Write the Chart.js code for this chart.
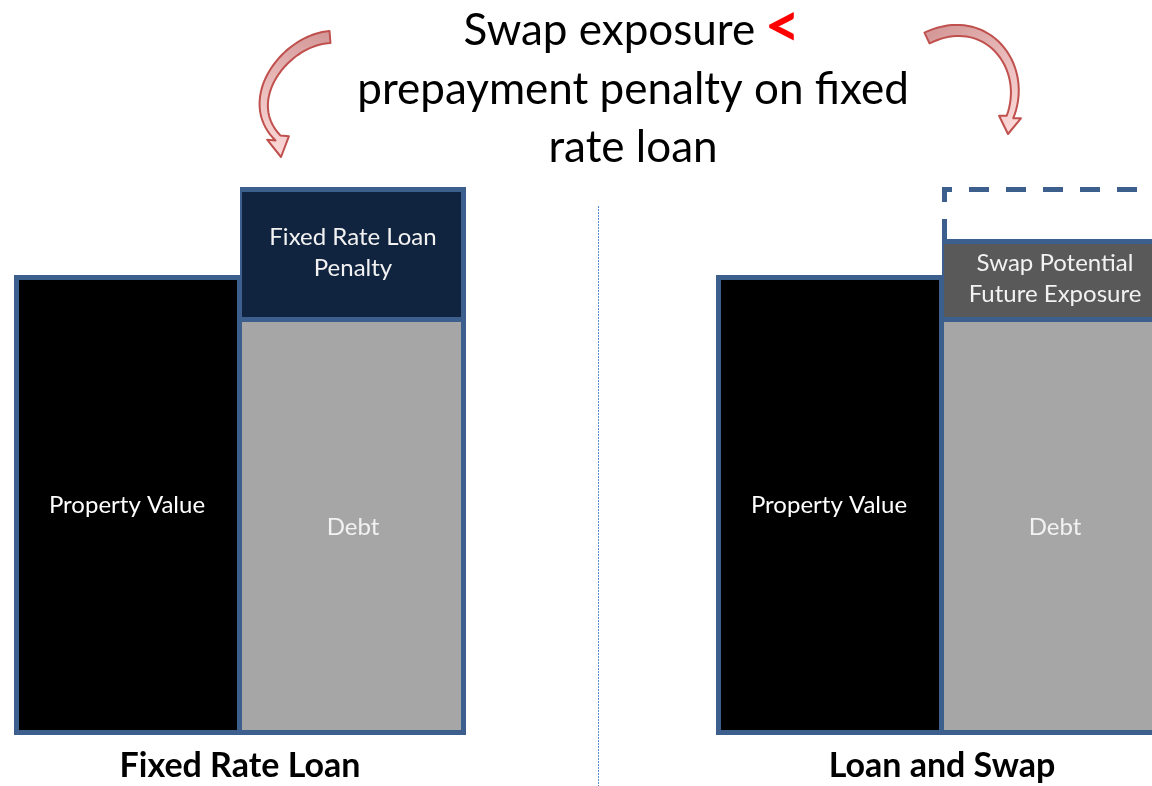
<!DOCTYPE html>
<html>
<head>
<meta charset="utf-8">
<script src="https://cdn.jsdelivr.net/npm/chart.js@4"></script>
<style>
  html, body { margin: 0; padding: 0; background: #ffffff; overflow: hidden; width: 1152px; height: 786px; }
  #wrap { position: relative; width: 1152px; height: 786px; overflow: hidden; }
  #c { position: absolute; left: -200px; top: 0; }
</style>
</head>
<body>
<div id="wrap"><canvas id="c" width="1600" height="786"></canvas></div>
<script>
// ---- data (relative units; no value axis is shown) ----
const categories = ["Fixed Rate Loan", "Loan and Swap"];
const propertyValue = [115, 115];
const debt = [104, 104];
const loanPenalty = [33, null];
const swapExposure = [null, 20];
const swapPotential = [null, 13];

const propertyValueText = ["Property Value", "Property Value"];
const debtText = ["Debt", "Debt"];
const loanPenaltyText = [["Fixed Rate Loan", "Penalty"], null];
const swapExposureText = [null, ["Swap Potential", "Future Exposure"]];

const titleLines = ["Swap exposure ", "prepayment penalty on fixed", "rate loan"];
const titleMark = "<";

// ---- styles ----
const BORDER = "#3C5F8D";
const FONT = "Lato, 'Open Sans', sans-serif";
const SHIFT = 200; // canvas is shifted left by this amount

const barLabelPlugin = {
  id: "barLabels",
  afterDatasetsDraw(chart) {
    const ctx = chart.ctx;
    ctx.save();
    chart.data.datasets.forEach((ds, di) => {
      if (!ds.texts) return;
      const meta = chart.getDatasetMeta(di);
      meta.data.forEach((el, i) => {
        const t = ds.texts[i];
        if (!t || ds.data[i] == null) return;
        const lines = Array.isArray(t) ? t : [t];
        const cx = el.x;
        const cy = (el.y + el.base) / 2;
        ctx.font = "24px " + FONT;
        ctx.fillStyle = ds.textColor || "#fff";
        ctx.textAlign = "center";
        ctx.textBaseline = "middle";
        const lh = 31;
        lines.forEach((ln, k) => {
          ctx.fillText(ln, cx, cy + (k - (lines.length - 1) / 2) * lh);
        });
      });
    });
    ctx.restore();
  }
};

const dashedBoxPlugin = {
  id: "dashedBox",
  afterDatasetsDraw(chart) {
    const ctx = chart.ctx;
    chart.data.datasets.forEach((ds, di) => {
      if (!ds.dashedOutline) return;
      const meta = chart.getDatasetMeta(di);
      meta.data.forEach((el, i) => {
        if (ds.data[i] == null) return;
        const l = el.x - el.width / 2 + 2.5;
        const r = el.x + el.width / 2 - 2.5;
        const top = el.y + 2.5;
        const bottom = el.base;
        ctx.save();
        ctx.strokeStyle = BORDER;
        ctx.lineWidth = 5;
        ctx.setLineDash([20, 17]);
        ctx.beginPath();
        ctx.moveTo(l, bottom);
        ctx.lineTo(l, top);
        ctx.lineTo(r, top);
        ctx.lineTo(r, bottom);
        ctx.stroke();
        ctx.restore();
      });
    });
  }
};

function bez(p0, p1, p2, p3, t) {
  const u = 1 - t;
  return [
    u*u*u*p0[0] + 3*u*u*t*p1[0] + 3*u*t*t*p2[0] + t*t*t*p3[0],
    u*u*u*p0[1] + 3*u*u*t*p1[1] + 3*u*t*t*p2[1] + t*t*t*p3[1]
  ];
}

function drawArrow(ctx, p0, p1, p2, p3, tip) {
  const N = 40, left = [], right = [];
  for (let i = 0; i <= N; i++) {
    const t = i / N;
    const a = bez(p0, p1, p2, p3, Math.max(0, t - 0.01));
    const b = bez(p0, p1, p2, p3, Math.min(1, t + 0.01));
    const c = bez(p0, p1, p2, p3, t);
    let dx = b[0] - a[0], dy = b[1] - a[1];
    const len = Math.hypot(dx, dy) || 1; dx /= len; dy /= len;
    const w = 6 - 2.5 * t;
    left.push([c[0] - dy * w, c[1] + dx * w]);
    right.push([c[0] + dy * w, c[1] - dx * w]);
  }
  let hx = tip[0] - p3[0], hy = tip[1] - p3[1];
  const hl = Math.hypot(hx, hy); hx /= hl; hy /= hl;
  const hw = 11;
  const h1 = [p3[0] - hy * hw, p3[1] + hx * hw];
  const h2 = [p3[0] + hy * hw, p3[1] - hx * hw];

  const grad = ctx.createLinearGradient(p0[0], p0[1], tip[0], tip[1]);
  grad.addColorStop(0, "#D49A99");
  grad.addColorStop(1, "#FCD9D9");
  ctx.save();
  ctx.beginPath();
  ctx.moveTo(left[0][0], left[0][1]);
  for (const p of left) ctx.lineTo(p[0], p[1]);
  ctx.lineTo(h1[0], h1[1]);
  ctx.lineTo(tip[0], tip[1]);
  ctx.lineTo(h2[0], h2[1]);
  for (let i = right.length - 1; i >= 0; i--) ctx.lineTo(right[i][0], right[i][1]);
  ctx.closePath();
  ctx.fillStyle = grad;
  ctx.fill();
  ctx.strokeStyle = "#C0504D";
  ctx.lineWidth = 2;
  ctx.lineJoin = "round";
  ctx.stroke();
  ctx.restore();
}

const decorPlugin = {
  id: "decor",
  afterDraw(chart) {
    const ctx = chart.ctx;
    const s = SHIFT;
    ctx.save();
    const cx = 633 + s;
    ctx.textBaseline = "middle";
    ctx.textAlign = "left";
    ctx.font = "44px " + FONT;
    const w1 = ctx.measureText(titleLines[0]).width;
    ctx.font = "bold 62px " + FONT;
    const wm = ctx.measureText(titleMark).width;
    let x0 = cx - (w1 + wm) / 2;
    ctx.font = "44px " + FONT;
    ctx.fillStyle = "#000";
    ctx.fillText(titleLines[0], x0, 31);
    ctx.font = "bold 62px " + FONT;
    ctx.fillStyle = "#FF0000";
    ctx.fillText(titleMark, x0 + w1 - 2, 27);
    ctx.font = "44px " + FONT;
    ctx.fillStyle = "#000";
    ctx.textAlign = "center";
    ctx.fillText(titleLines[1], cx, 90);
    ctx.fillText(titleLines[2], cx, 148);
    ctx.restore();

    ctx.save();
    ctx.strokeStyle = "#5B8ED0";
    ctx.lineWidth = 1;
    ctx.setLineDash([2, 1]);
    ctx.beginPath();
    ctx.moveTo(598.5 + s, 206);
    ctx.lineTo(598.5 + s, 786);
    ctx.stroke();
    ctx.restore();

    drawArrow(ctx, [330 + s, 37], [285 + s, 40], [240 + s, 100], [278 + s, 138], [281 + s, 157]);
    drawArrow(ctx, [927 + s, 38], [985 + s, 10], [1030 + s, 65], [1010 + s, 117], [1008 + s, 134]);
  }
};

const common = {
  borderColor: BORDER,
  borderSkipped: false,
  barPercentage: 1,
  categoryPercentage: 452 / 702,
  inflateAmount: 0
};

new Chart(document.getElementById("c"), {
  type: "bar",
  data: {
    labels: categories,
    datasets: [
      Object.assign({ label: "Property Value", data: propertyValue, stack: "value",
        backgroundColor: "#000000", texts: propertyValueText, textColor: "#FFFFFF",
        borderWidth: { top: 5, left: 5, bottom: 5, right: 3 } }, common),
      Object.assign({ label: "Debt", data: debt, stack: "capital",
        backgroundColor: "#A6A6A6", texts: debtText, textColor: "#F2F2F2",
        borderWidth: { top: 3, left: 2, bottom: 5, right: 5 } }, common),
      Object.assign({ label: "Fixed Rate Loan Penalty", data: loanPenalty, stack: "capital",
        backgroundColor: "#11243F", texts: loanPenaltyText, textColor: "#F2F2F2",
        borderWidth: { top: 5, left: 2, bottom: 2, right: 5 } }, common),
      Object.assign({ label: "Swap Potential Future Exposure", data: swapExposure, stack: "capital",
        backgroundColor: "#595959", texts: swapExposureText, textColor: "#F2F2F2",
        borderWidth: { top: 5, left: 2, bottom: 2, right: 5 } }, common),
      Object.assign({ label: "Potential Exposure Range", data: swapPotential, stack: "capital",
        backgroundColor: "rgba(0,0,0,0)", dashedOutline: true,
        borderWidth: 0 }, common)
    ]
  },
  options: {
    responsive: false,
    animation: false,
    devicePixelRatio: 1,
    layout: { padding: { left: 89, right: 107, top: 137, bottom: 0 } },
    plugins: { legend: { display: false }, tooltip: { enabled: false }, title: { display: false } },
    scales: {
      x: {
        grid: { display: false, drawTicks: false },
        border: { display: false },
        ticks: { color: "#000", font: { family: FONT, size: 34, weight: "bold" }, padding: 11 },
        afterFit(axis) { axis.height = 51; }
      },
      y: { display: false, stacked: true, min: 0, max: 149.5 }
    }
  },
  plugins: [barLabelPlugin, dashedBoxPlugin, decorPlugin]
});
</script>
</body>
</html>
